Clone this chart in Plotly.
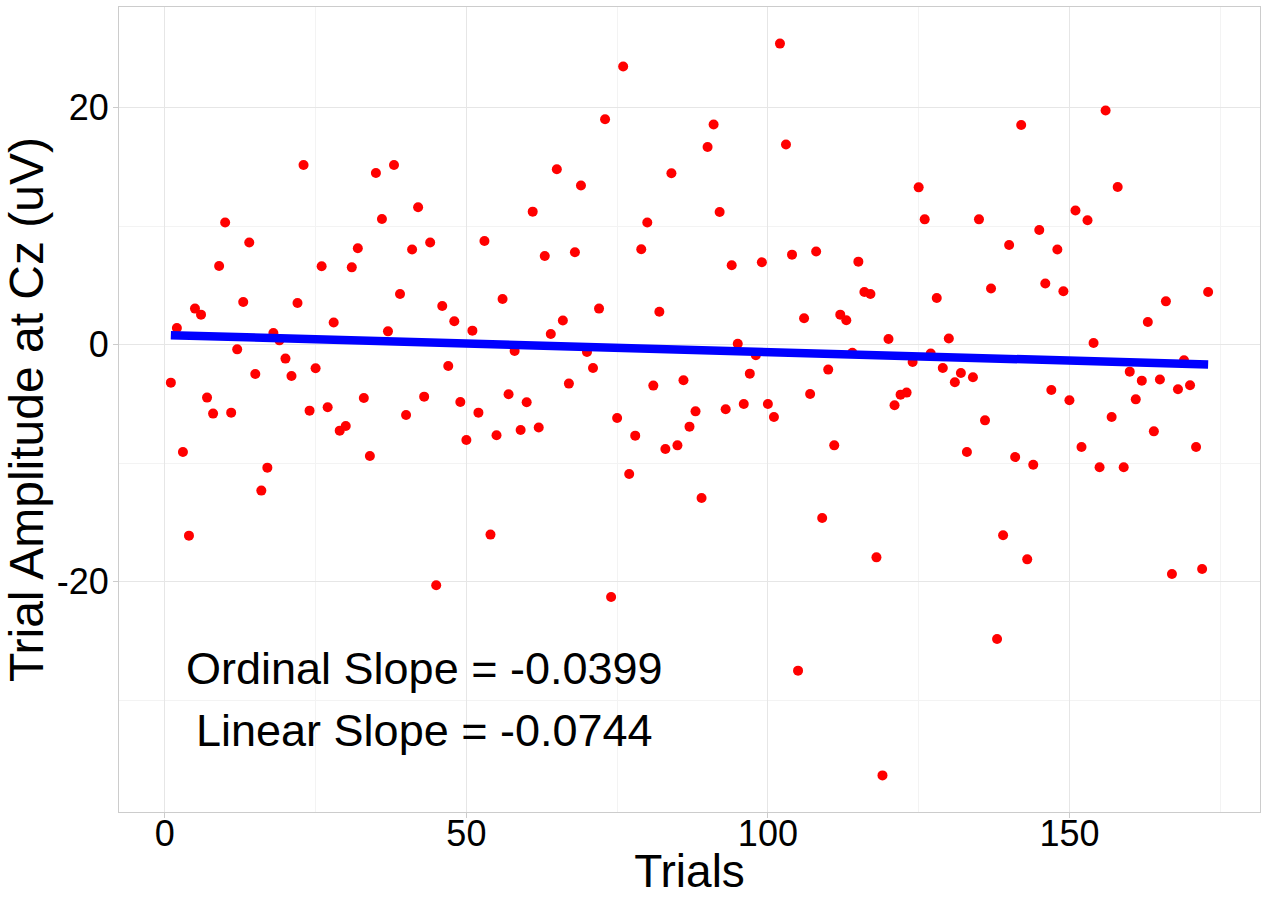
import numpy as np
import plotly.graph_objects as go

# ---- data ----
trials = list(range(1, 174))
amplitude = [
    -3.21, 1.40, -9.06, -16.12, 3.04, 2.53, -4.47, -5.82, 6.63, 10.30,
    -5.74, -0.40, 3.59, 8.61, -2.48, -12.32, -10.38, 0.98, 0.36, -1.18,
    -2.65, 3.51, 15.16, -5.57, -2.00, 6.61, -5.29, 1.86, -7.26, -6.87,
    6.52, 8.13, -4.51, -9.40, 14.48, 10.60, 1.12, 15.16, 4.27, -5.94,
    8.02, 11.59, -4.39, 8.61, -20.31, 3.26, -1.81, 1.97, -4.84, -8.05,
    1.18, -5.74, 8.74, -16.03, -7.65, 3.85, -4.19, -0.54, -7.21, -4.87,
    11.22, -7.00, 7.48, 0.89, 14.79, 2.03, -3.29, 7.79, 13.42, -0.62,
    -1.97, 3.04, 19.01, -21.30, -6.19, 23.46, -10.92, -7.68, 8.04, 10.30,
    -3.46, 2.78, -8.81, 14.46, -8.50, -3.01, -6.92, -5.63, -12.94, 16.68,
    18.57, 11.19, -5.46, 6.69, 0.08, -5.01, -2.45, -0.90, 6.95, -5.01,
    -6.11, 25.40, 16.88, 7.59, -27.51, 2.22, -4.17, 7.85, -14.63, -2.11,
    -8.50, 2.53, 2.05, -0.68, 7.00, 4.44, 4.27, -17.95, -36.35, 0.47,
    -5.12, -4.22, -4.05, -1.47, 13.27, 10.57, -0.76, 3.93, -1.97, 0.51,
    -3.18, -2.40, -9.06, -2.76, 10.57, -6.39, 4.73, -24.84, -16.09, 8.41,
    -9.49, 18.53, -18.12, -10.13, 9.67, 5.15, -3.83, 8.02, 4.50, -4.70,
    11.31, -8.64, 10.49, 0.14, -10.35, 19.75, -6.11, 13.30, -10.35, -2.28,
    -4.62, -3.04, 1.91, -7.32, -2.95, 3.65, -19.36, -3.77, -1.32, -3.43,
    -8.64, -18.94, 4.44,
]
annotation_lines = ["Ordinal Slope = -0.0399", "Linear Slope = -0.0744"]
annotation_x = [43, 43]
annotation_y = [-27.3, -32.6]
x_ticks = [0, 50, 100, 150]
x_tick_labels = ["0", "50", "100", "150"]
x_minor = [25, 75, 125, 175]
y_ticks = [-20, 0, 20]
y_tick_labels = ["-20", "0", "20"]
y_minor = [-30, -10, 10]

# ---- linear fit (drawn from data) ----
xa = np.array(trials, dtype=float)
ya = np.array(amplitude, dtype=float)
slope, intercept = np.polyfit(xa, ya, 1)
fit_x = [xa.min(), xa.max()]
fit_y = [intercept + slope * v for v in fit_x]

# ggplot-like 5% expansion
def expand(lo, hi, f=0.05):
    s = hi - lo
    return [lo - f * s, hi + f * s]

xr = expand(min(trials), max(trials))
yr = expand(min(amplitude), max(amplitude))

FONT = "Liberation Sans, Arial, sans-serif"

fig = go.Figure()
fig.add_trace(go.Scatter(
    x=trials, y=amplitude, mode="markers",
    marker=dict(color="#ff0000", size=10, line=dict(width=0)),
    showlegend=False, hoverinfo="skip",
))
fig.add_trace(go.Scatter(
    x=fit_x, y=fit_y, mode="lines",
    line=dict(color="#0000ff", width=8.5),
    showlegend=False, hoverinfo="skip",
))

for txt, ax_, ay_ in zip(annotation_lines, annotation_x, annotation_y):
    fig.add_annotation(
        x=ax_, y=ay_, text=txt, showarrow=False,
        xanchor="center", yanchor="middle",
        font=dict(family=FONT, size=45, color="black"),
    )

axis_common = dict(
    automargin=False,
    showline=True, mirror=True, linecolor="#cccccc", linewidth=1,
    showgrid=True, gridcolor="#e6e6e6", gridwidth=1,
    zeroline=False,
    ticks="outside", ticklen=5, tickwidth=1, tickcolor="#cccccc",
    tickfont=dict(family=FONT, size=36, color="black"),
)

fig.update_layout(
    width=1269, height=897,
    margin=dict(l=119, r=9, t=7, b=85),
    paper_bgcolor="white", plot_bgcolor="white",
    font=dict(family=FONT, color="black"),
    xaxis=dict(
        **axis_common,
        range=xr, tickmode="array", tickvals=x_ticks, ticktext=x_tick_labels,
        ticklabelstandoff=-15,
        minor=dict(tickmode="array", tickvals=x_minor, showgrid=True,
                   gridcolor="#f3f3f3", gridwidth=1),
        title=dict(text="Trials", font=dict(family=FONT, size=46, color="black"),
                   standoff=17),
    ),
    yaxis=dict(
        **axis_common,
        range=yr, tickmode="array", tickvals=y_ticks, ticktext=y_tick_labels,
        ticklabelstandoff=-3,
        minor=dict(tickmode="array", tickvals=y_minor, showgrid=True,
                   gridcolor="#f3f3f3", gridwidth=1),
        title=dict(text="Trial Amplitude at Cz (uV)",
                   font=dict(family=FONT, size=48, color="black"),
                   standoff=0),
    ),
)

fig.write_html(
    "out.html",
    config={"displayModeBar": False},
    post_script="document.body.style.margin='0px';document.body.style.overflow='hidden';",
)
